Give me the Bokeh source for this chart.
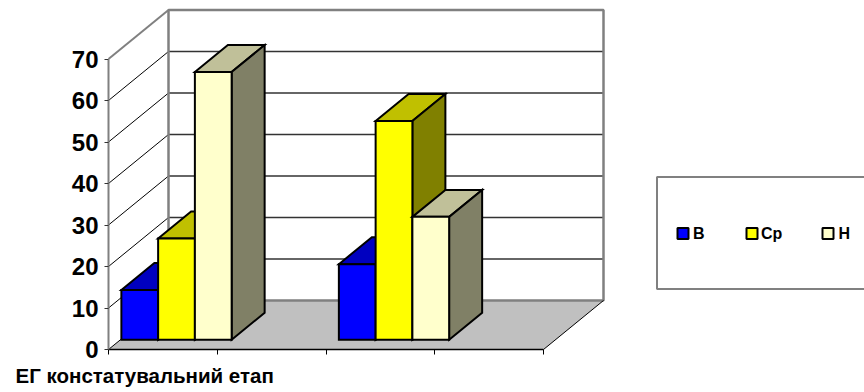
from bokeh.plotting import figure
from bokeh.models import ColumnDataSource, Range1d, FixedTicker
from bokeh.core.properties import value
from bokeh.embed import file_html
from bokeh.resources import INLINE

# Series values for the two filled category slots
series_names = ["В", "Ср", "Н"]
slots = [0, 2]
values_v = [12, 18.2]
values_sr = [24.4, 52.7]
values_n = [64.5, 29.6]
tick_values = [0, 10, 20, 30, 40, 50, 60, 70]
axis_title = "ЕГ констатувальний етап"

front_colors = ["#0000FF", "#FFFF00", "#FFFFCC"]
top_colors = ["#0000C0", "#C0C000", "#C0C099"]
side_colors = ["#000080", "#808000", "#808066"]

FONT = "Liberation Sans"
W, H = 864, 392
LEFT, BOTTOM = 108, 43
CAT_PX = 108.75
UNIT_PX = 4.15

# Oblique projection: full depth shifts a point right and up
DEPTH_X = 60 / CAT_PX
DEPTH_Y = 49 / UNIT_PX
BAR_FRONT, BAR_BACK = 0.2, 0.75
BAR_W = 0.338
GROUP_CENTER = 0.515
SLOT_COUNT = 4
AXIS_MAX = 70


def proj(x, y, depth=0.0):
    return x + depth * DEPTH_X, y + depth * DEPTH_Y


def poly(points):
    pts = [proj(*pt) for pt in points]
    return [a for a, _ in pts], [b for _, b in pts]


def px_x(px):
    return (px - LEFT) / CAT_PX


def px_y(py):
    return (H - BOTTOM - py) / UNIT_PX


# The frame fills the page; both axes are pinned at the chart's origin inside it
p = figure(
    width=W, height=H, output_backend="svg", toolbar_location=None,
    x_range=Range1d(px_x(0), px_x(W)),
    y_range=Range1d(px_y(H), px_y(0)),
    min_border_left=0, min_border_right=0, min_border_top=0, min_border_bottom=0,
)
p.outline_line_color = None
p.grid.visible = False

# Floor
fx, fy = poly([(0, 0, 0), (0, 0, 1), (SLOT_COUNT, 0, 1), (SLOT_COUNT, 0, 0)])
p.patch(fx, fy, fill_color="#C0C0C0", line_color=None)

# Gridlines on the side and back walls
for t in tick_values[1:-1]:
    x0, y0 = proj(0, t, 0)
    x1, y1 = proj(0, t, 1)
    x2, y2 = proj(SLOT_COUNT, t, 1)
    p.line([x0, x1], [y0, y1], line_color="#000000", line_width=1)
    p.line([x1, x2], [y1, y2], line_color="#333333", line_width=1.5)

# Wall and floor edges
wx, wy = poly([(0, 0, 1), (0, AXIS_MAX, 1), (SLOT_COUNT, AXIS_MAX, 1), (SLOT_COUNT, 0, 1), (0, 0, 1)])
p.line(wx, wy, line_color="#808080", line_width=2.5)
tx, ty = poly([(0, AXIS_MAX, 0), (0, AXIS_MAX, 1)])
p.line(tx, ty, line_color="#808080", line_width=2)
for cx in (0, SLOT_COUNT):
    ex, ey = poly([(cx, 0, 0), (cx, 0, 1)])
    p.line(ex, ey, line_color="#000000", line_width=1)

# Bars, painted back to front so nearer faces cover farther ones
xs, ys, fills = [], [], []
series_values = [values_v, values_sr, values_n]
for g, slot in enumerate(slots):
    left = slot + GROUP_CENTER - 1.5 * BAR_W
    for s, vals in enumerate(series_values):
        a, b, v = left + s * BAR_W, left + (s + 1) * BAR_W, vals[g]
        faces = [
            ([(a, v, BAR_FRONT), (a, v, BAR_BACK), (b, v, BAR_BACK), (b, v, BAR_FRONT)], top_colors[s]),
            ([(b, 0, BAR_FRONT), (b, 0, BAR_BACK), (b, v, BAR_BACK), (b, v, BAR_FRONT)], side_colors[s]),
            ([(a, 0, BAR_FRONT), (b, 0, BAR_FRONT), (b, v, BAR_FRONT), (a, v, BAR_FRONT)], front_colors[s]),
        ]
        for pts, col in faces:
            px_, py_ = poly(pts)
            xs.append(px_)
            ys.append(py_)
            fills.append(col)
p.patches("xs", "ys", source=ColumnDataSource(dict(xs=xs, ys=ys, fill=fills)),
          fill_color="fill", line_color="#000000", line_width=2, line_join="miter")

# Axes: the category axis carries ticks only
slot_ticks = list(range(SLOT_COUNT + 1))
p.xaxis.fixed_location = 0
p.xaxis.ticker = FixedTicker(ticks=slot_ticks)
p.xaxis.major_label_overrides = {t: "" for t in slot_ticks}
p.xaxis.bounds = (0, SLOT_COUNT)
p.xaxis.axis_line_color = "#000000"
p.xaxis.axis_line_width = 1.5
p.xaxis.major_tick_line_color = "#000000"
p.xaxis.major_tick_in = 0
p.xaxis.major_tick_out = 5
p.xaxis.minor_tick_line_color = None

p.yaxis.fixed_location = 0
p.yaxis.ticker = FixedTicker(ticks=tick_values)
p.yaxis.bounds = (0, AXIS_MAX)
p.yaxis.axis_line_color = "#808080"
p.yaxis.axis_line_width = 2
p.yaxis.major_tick_line_color = "#333333"
p.yaxis.major_tick_in = 0
p.yaxis.major_tick_out = 4
p.yaxis.minor_tick_line_color = None
p.yaxis.major_label_text_font = FONT
p.yaxis.major_label_text_font_style = "bold"
p.yaxis.major_label_text_font_size = "24px"
p.yaxis.major_label_text_color = "#000000"
p.yaxis.major_label_standoff = 6

# Legend box runs off the right edge of the page
p.quad(left=px_x(656.5), right=px_x(875), top=px_y(176.5), bottom=px_y(288.5),
       fill_color="#FFFFFF", line_color="#808080", line_width=2)
swatch_px = [677, 746, 822]
label_px = [692.5, 760.5, 838]
for name, col, sx, lx in zip(series_names, front_colors, swatch_px, label_px):
    p.quad(left=px_x(sx), right=px_x(sx + 11), top=px_y(227.5), bottom=px_y(238.5),
           fill_color=col, line_color="#000000", line_width=2)
    p.text(x=[px_x(lx)], y=[px_y(233)], text=[name], text_font=value(FONT),
           text_font_style="bold", text_font_size="16px", text_color="#000000",
           text_align="left", text_baseline="middle")

# Caption under the plot area, left of the value axis
p.text(x=[px_x(15)], y=[px_y(375)], text=[axis_title], text_font=value(FONT),
       text_font_style="bold", text_font_size="20.5px", text_color="#000000",
       text_align="left", text_baseline="middle")

open("out.html", "w").write(file_html(p, INLINE))
